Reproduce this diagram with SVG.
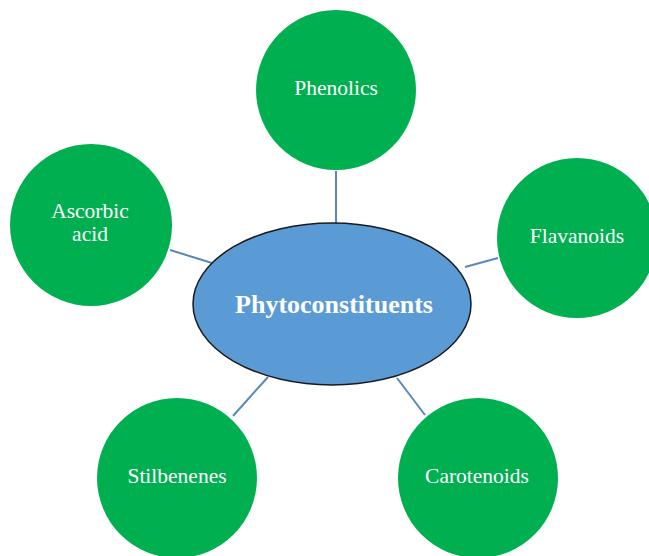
<svg xmlns="http://www.w3.org/2000/svg" width="649" height="556" viewBox="0 0 649 556">
<style>
.leaf{fill:#00B050}
.lbl{font-family:"Liberation Serif","Times New Roman",serif;font-size:21.5px;fill:#ffffff;text-anchor:middle}
.conn line{stroke:#5B87BC;stroke-width:2}
.hub{fill:#5B9BD5;stroke:#1a1a1a;stroke-width:1.5}
.hubl{font-family:"Liberation Serif","Times New Roman",serif;font-size:26px;font-weight:bold;fill:#ffffff;text-anchor:middle}
</style>
<rect width="649" height="556" fill="#ffffff"/>
<g id="connectors" class="conn">
<line x1="336" y1="171" x2="336" y2="224"/>
<line x1="170" y1="250" x2="212" y2="263"/>
<line x1="465" y1="267" x2="498" y2="258"/>
<line x1="233" y1="416" x2="268" y2="377"/>
<line x1="397" y1="378" x2="425" y2="415"/>
</g>
<g id="hub">
<ellipse class="hub" cx="332" cy="304" rx="139" ry="81"/>
<text class="hubl" x="334" y="313">Phytoconstituents</text>
</g>
<g id="phenolics">
<circle class="leaf" cx="336" cy="90" r="80"/>
<text class="lbl" x="336" y="95">Phenolics</text>
</g>
<g id="ascorbic">
<circle class="leaf" cx="91" cy="225" r="81"/>
<text class="lbl" x="90" y="218">Ascorbic</text>
<text class="lbl" x="90" y="241">acid</text>
</g>
<g id="flavanoids">
<circle class="leaf" cx="577" cy="238" r="80"/>
<text class="lbl" x="577" y="243">Flavanoids</text>
</g>
<g id="stilbenenes">
<circle class="leaf" cx="177" cy="478" r="80"/>
<text class="lbl" x="177" y="483">Stilbenenes</text>
</g>
<g id="carotenoids">
<circle class="leaf" cx="478" cy="478" r="80"/>
<text class="lbl" x="477" y="483">Carotenoids</text>
</g>
</svg>
